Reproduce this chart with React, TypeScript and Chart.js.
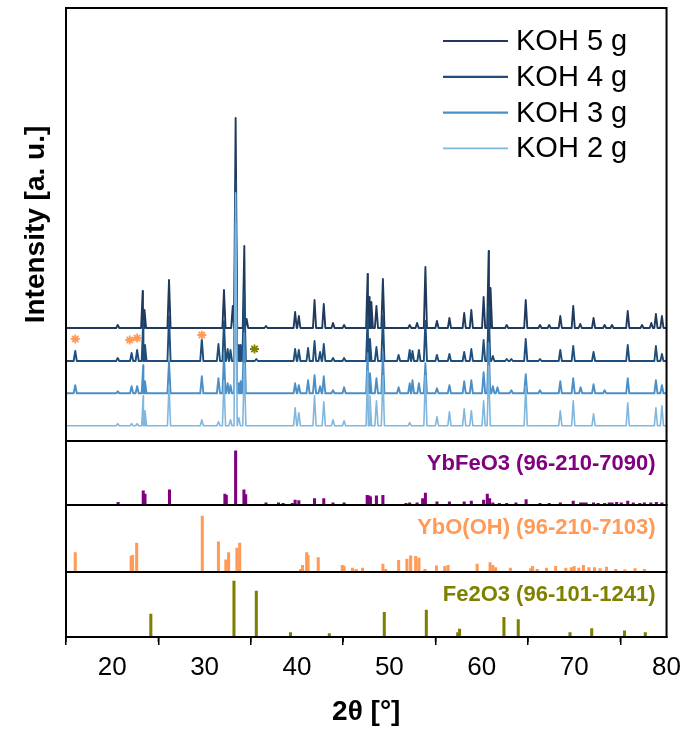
import React, { useEffect, useRef } from 'react';
import { Chart, registerables } from 'chart.js';

Chart.register(...registerables);

// ---------- axis ----------
const xMin = 15;
const xMax = 80;
const majorTicks = [20, 30, 40, 50, 60, 70, 80];
const minorTicks = [15, 25, 35, 45, 55, 65, 75];

// ---------- measured patterns (2θ, peak intensity above own baseline, a.u.) ----------
const seriesLabels = ['KOH 5 g', 'KOH 4 g', 'KOH 3 g', 'KOH 2 g'];
const seriesColors = ['#1f3a5c', '#1f4e7a', '#4b8fc6', '#80b7de'];
const seriesWidths = [1.9, 1.9, 1.9, 1.6];
const seriesOffsets = [113, 80, 47.7, 15.3];

const koh5Peaks: number[][] = [
  [20.6, 3], [23.3, 37], [23.5, 18], [26.15, 48], [32.1, 38], [33.05, 22], [33.36, 210], [34.3, 82],
  [34.55, 9], [36.65, 2], [39.8, 16], [40.2, 12], [41.9, 28], [42.9, 24], [43.9, 5], [45.1, 3],
  [47.65, 54], [47.85, 31], [48.05, 26], [48.6, 22], [49.3, 49], [52.2, 3], [53.0, 5], [53.9, 61],
  [55.15, 7], [56.5, 10], [58.1, 15], [58.87, 18], [60.2, 31], [60.75, 77], [60.95, 40], [62.7, 3],
  [64.76, 28], [66.3, 3], [67.3, 3], [68.5, 12], [69.9, 22], [70.66, 4], [72.1, 10], [73.3, 3],
  [74.1, 3], [75.8, 17], [77.35, 3], [78.35, 5], [78.85, 14], [79.5, 12],
];
const koh4Peaks: number[][] = [
  [16.0, 10], [20.6, 3], [22.1, 8], [22.7, 11], [23.36, 40], [23.55, 16], [26.15, 45], [29.7, 22],
  [31.5, 17], [32.1, 40], [32.5, 12], [32.8, 11], [33.36, 180], [33.7, 16], [33.9, 16], [34.3, 70],
  [35.6, 2], [39.8, 12], [40.2, 11], [41.2, 13], [41.9, 20], [42.5, 9], [42.9, 17], [43.9, 3],
  [45.1, 3], [47.65, 45], [47.9, 22], [48.6, 14], [49.3, 45], [51.0, 6], [52.2, 11], [52.5, 10],
  [53.2, 11], [53.9, 40], [55.15, 6], [56.5, 7], [58.1, 9], [58.87, 12], [60.2, 21], [60.75, 55],
  [61.2, 5], [62.7, 2], [63.2, 2], [64.76, 22], [66.3, 2], [68.5, 11], [69.9, 15], [72.1, 9],
  [75.8, 16], [78.85, 15], [79.5, 7],
];
const koh3Peaks: number[][] = [
  [16.0, 8], [20.6, 2], [22.1, 7], [22.7, 7], [23.36, 28], [23.55, 12], [26.15, 32], [29.7, 17],
  [31.5, 15], [32.1, 38], [32.5, 10], [32.8, 8], [33.36, 170], [33.7, 10], [33.9, 12], [34.3, 60],
  [39.8, 10], [40.2, 8], [41.2, 13], [41.9, 18], [42.5, 7], [42.9, 17], [43.9, 3], [45.1, 6],
  [47.65, 40], [47.9, 20], [48.6, 15], [49.3, 40], [51.0, 6], [52.2, 10], [52.5, 13], [53.2, 10],
  [53.9, 30], [55.15, 5], [56.5, 8], [58.1, 12], [58.87, 13], [60.2, 21], [60.75, 50], [61.2, 7],
  [61.7, 6], [63.2, 3], [64.76, 19], [66.3, 3], [68.5, 12], [69.9, 15], [70.7, 6], [72.1, 9],
  [73.3, 3], [75.8, 15], [78.85, 13], [79.5, 8],
];
const koh2Peaks: number[][] = [
  [20.6, 2], [22.1, 2], [22.7, 2], [23.36, 30], [23.55, 15], [26.15, 40], [29.7, 6], [31.5, 4],
  [32.1, 45], [32.8, 6], [33.36, 233], [33.7, 8], [34.3, 62], [39.8, 18], [40.2, 13], [41.9, 30],
  [42.9, 24], [43.9, 6], [45.1, 5], [47.65, 55], [47.9, 30], [48.6, 25], [49.3, 50], [52.2, 3],
  [53.9, 50], [55.15, 9], [56.5, 14], [58.1, 17], [58.87, 15], [60.2, 25], [60.75, 60], [64.76, 40],
  [68.5, 15], [69.9, 25], [72.1, 12], [75.8, 23], [78.85, 18], [79.5, 20],
];
const seriesPeaks = [koh5Peaks, koh4Peaks, koh3Peaks, koh2Peaks];

// impurity markers
const starYbOOHx = [16.0, 21.9, 22.7, 29.7];
const starYbOOHy = [102, 101, 103, 106];
const starFe2O3x = [35.4];
const starFe2O3y = [92];

// ---------- reference cards (2θ, relative intensity %) ----------
const refNames = ['YbFeO3 (96-210-7090)', 'YbO(OH) (96-210-7103)', 'Fe2O3 (96-101-1241)'];
const refColors = ['#800080', '#ff9a57', '#808000'];
const refMax = [118, 120, 116];

const ybfeo3Pos = [20.64, 23.36, 23.55, 26.2, 32.2, 32.35, 33.36, 34.26, 34.45, 36.65, 38.0, 38.5, 39.5, 39.8, 40.2,
  41.9, 42.9, 43.9, 45.1, 47.6, 47.8, 47.95, 48.6, 49.3, 51.8, 52.2, 53.0, 53.6, 53.9, 55.15, 56.5, 58.1, 58.87,
  60.2, 60.6, 60.85, 61.2, 61.9, 62.7, 63.7, 64.8, 66.3, 67.3, 68.5, 69.9, 70.7, 71.0, 71.3, 72.1, 72.6, 73.3,
  73.8, 74.1, 74.6, 75.1, 75.8, 76.4, 77.1, 77.6, 78.3, 78.9, 79.5];
const ybfeo3Int = [5, 26, 20, 28, 20, 18, 100, 28, 19, 4, 4, 3, 3, 9, 8,
  12, 12, 4, 4, 18, 17, 15, 17, 18, 3, 4, 4, 12, 22, 6, 6, 6, 7,
  9, 20, 12, 4, 3, 3, 4, 10, 3, 3, 4, 7, 4, 4, 4, 4, 3, 3,
  4, 4, 5, 4, 7, 4, 3, 4, 4, 5, 4];

const yboohPos = [16.0, 22.05, 22.2, 22.65, 29.75, 31.5, 32.3, 32.6, 33.5, 33.8, 40.4, 40.6, 41.05, 41.2, 42.3,
  44.9, 45.1, 46.0, 46.4, 47.1, 49.3, 49.6, 51.0, 51.9, 52.3, 52.85, 53.2, 53.85, 55.1, 56.0, 56.35, 59.5,
  60.9, 61.2, 61.5, 63.1, 65.3, 65.5, 66.0, 67.0, 68.0, 69.1, 69.7, 70.0, 70.5, 71.0, 71.6, 72.2, 72.8,
  73.5, 74.5, 75.5, 76.6, 77.6];
const yboohInt = [35, 28, 30, 52, 100, 54, 22, 35, 43, 52, 5, 12, 35, 30, 26,
  12, 10, 7, 5, 7, 14, 5, 21, 23, 29, 28, 25, 5, 11, 10, 12, 14,
  17, 12, 8, 7, 6, 10, 5, 7, 10, 7, 8, 10, 7, 12, 8, 8, 6,
  9, 5, 4, 6, 5];

const fe2o3Pos = [24.18, 33.18, 35.6, 39.3, 43.5, 49.45, 54.0, 57.4, 57.6, 62.4, 63.95, 69.55, 71.9, 75.45, 77.7];
const fe2o3Int = [41, 100, 82, 8, 6, 44, 48, 8, 14, 35, 31, 8, 15, 11, 8];

const refPos = [ybfeo3Pos, yboohPos, fe2o3Pos];
const refInt = [ybfeo3Int, yboohInt, fe2o3Int];
const refAxisIds = ['yA', 'yB', 'yC'];

const FONT = "'Liberation Sans', Arial, sans-serif";
const PEAK_HALF_WIDTH = 0.17;

function buildTrace(peaks: number[][], offset: number) {
  const pts: { x: number; y: number }[] = [{ x: xMin, y: offset }];
  peaks.forEach(([p, h]) => {
    pts.push({ x: p - PEAK_HALF_WIDTH, y: offset });
    pts.push({ x: p, y: offset + h });
    pts.push({ x: p + PEAK_HALF_WIDTH, y: offset });
  });
  pts.push({ x: xMax, y: offset });
  return pts.sort((a, b) => a.x - b.x);
}

const panelPlugin = {
  id: 'panelPlugin',
  afterDraw(chart: any) {
    const { ctx, chartArea } = chart;
    const xs = chart.scales.x;
    ctx.save();
    // minor ticks
    ctx.strokeStyle = '#000';
    ctx.lineWidth = 1.5;
    minorTicks.forEach((v) => {
      const px = xs.getPixelForValue(v);
      ctx.beginPath();
      ctx.moveTo(px, chartArea.bottom);
      ctx.lineTo(px, chartArea.bottom + 5);
      ctx.stroke();
    });
    // panel frames
    ['y', 'yA', 'yB', 'yC'].forEach((id) => {
      const s = chart.scales[id];
      ctx.lineWidth = 2;
      ctx.strokeStyle = '#000';
      ctx.strokeRect(chartArea.left, s.top, chartArea.right - chartArea.left, s.bottom - s.top);
    });
    // reference labels
    ctx.font = `bold 22px ${FONT}`;
    ctx.textAlign = 'right';
    ctx.textBaseline = 'middle';
    refAxisIds.forEach((id, i) => {
      const s = chart.scales[id];
      ctx.fillStyle = refColors[i];
      ctx.fillText(refNames[i], chartArea.right - 11, s.top + 23);
    });
    // legend
    ctx.font = `29px ${FONT}`;
    ctx.textAlign = 'left';
    seriesLabels.forEach((lab, i) => {
      const y = chartArea.top + 33 + i * 35.8;
      ctx.strokeStyle = seriesColors[i];
      ctx.lineWidth = seriesWidths[i] + 0.3;
      ctx.beginPath();
      ctx.moveTo(443, y);
      ctx.lineTo(508, y);
      ctx.stroke();
      ctx.fillStyle = '#000';
      ctx.fillText(lab, 516, y + 1);
    });
    ctx.restore();
  },
};

export default function App() {
  const canvasRef = useRef<HTMLCanvasElement | null>(null);

  useEffect(() => {
    if (!canvasRef.current) return;

    const lineSets = seriesLabels.map((lab, i) => ({
      type: 'line' as const,
      label: lab,
      data: buildTrace(seriesPeaks[i], seriesOffsets[i]),
      borderColor: seriesColors[i],
      borderWidth: seriesWidths[i],
      borderJoinStyle: 'round' as const,
      pointRadius: 0,
      tension: 0,
      fill: false,
      yAxisID: 'y',
    })).reverse(); // KOH 2 g drawn top-most

    const starSets = [
      {
        type: 'scatter' as const,
        label: 'YbO(OH) marker',
        data: starYbOOHx.map((x, i) => ({ x, y: starYbOOHy[i] })),
        pointStyle: 'star',
        pointRadius: 4.5,
        borderColor: refColors[1],
        backgroundColor: refColors[1],
        borderWidth: 1.8,
        yAxisID: 'y',
      },
      {
        type: 'scatter' as const,
        label: 'Fe2O3 marker',
        data: starFe2O3x.map((x, i) => ({ x, y: starFe2O3y[i] })),
        pointStyle: 'star',
        pointRadius: 4.5,
        borderColor: refColors[2],
        backgroundColor: refColors[2],
        borderWidth: 1.8,
        yAxisID: 'y',
      },
    ];

    const barSets = refAxisIds.map((id, i) => ({
      type: 'bar' as const,
      label: refNames[i],
      data: refPos[i].map((x, j) => ({ x, y: refInt[i][j] })),
      backgroundColor: refColors[i],
      borderWidth: 0,
      barThickness: 2.4,
      grouped: false,
      yAxisID: id,
    }));

    const refScale = (i: number) => ({
      type: 'linear' as const,
      position: 'left' as const,
      stack: 'panels',
      stackWeight: [64, 67, 65][i],
      weight: 3 - i,
      min: 0,
      max: refMax[i],
      ticks: { display: false },
      grid: { display: false },
      border: { display: false },
      afterFit: (s: any) => { s.width = 58; },
    });

    const chart = new Chart(canvasRef.current, {
      type: 'line',
      data: { datasets: [...starSets, ...lineSets, ...barSets] as any },
      options: {
        animation: false,
        responsive: true,
        maintainAspectRatio: false,
        events: [],
        layout: { padding: { left: 8, right: 17, top: 8, bottom: 0 } },
        plugins: { legend: { display: false }, tooltip: { enabled: false } },
        scales: {
          x: {
            type: 'linear',
            position: 'bottom',
            min: xMin,
            max: xMax,
            offset: false,
            afterBuildTicks: (s: any) => { s.ticks = majorTicks.map((v) => ({ value: v })); },
            afterFit: (s: any) => { s.height = 94; },
            grid: { drawOnChartArea: false, drawTicks: true, tickLength: 8, color: '#000', lineWidth: 1.5 },
            border: { display: true, color: '#000', width: 2 },
            ticks: {
              color: '#000',
              padding: 7,
              maxRotation: 0,
              autoSkip: false,
              font: { family: "'Liberation Sans Narrow', 'Liberation Sans', Arial, sans-serif", size: 26 },
              callback: (v: any) => String(v),
            },
            title: {
              display: true,
              text: '2θ [°]',
              color: '#000',
              font: { family: FONT, size: 28, weight: 'bold' },
              padding: { top: 0, bottom: 2 },
            },
          },
          y: {
            type: 'linear',
            position: 'left',
            stack: 'panels',
            stackWeight: 433,
            weight: 4,
            min: 0,
            max: 433,
            ticks: { display: false },
            grid: { display: false },
            border: { display: false },
            afterFit: (s: any) => { s.width = 58; },
            title: {
              display: true,
              text: 'Intensity [a. u.]',
              color: '#000',
              font: { family: FONT, size: 28, weight: 'bold' },
              padding: { top: 11, bottom: 0 },
            },
          },
          yA: refScale(0),
          yB: refScale(1),
          yC: refScale(2),
        } as any,
      },
      plugins: [panelPlugin],
    });

    return () => chart.destroy();
  }, []);

  return (
    <div style={{ position: 'absolute', left: 0, top: 0, width: 688, height: 731, background: '#fff' }}>
      <canvas ref={canvasRef} />
    </div>
  );
}
